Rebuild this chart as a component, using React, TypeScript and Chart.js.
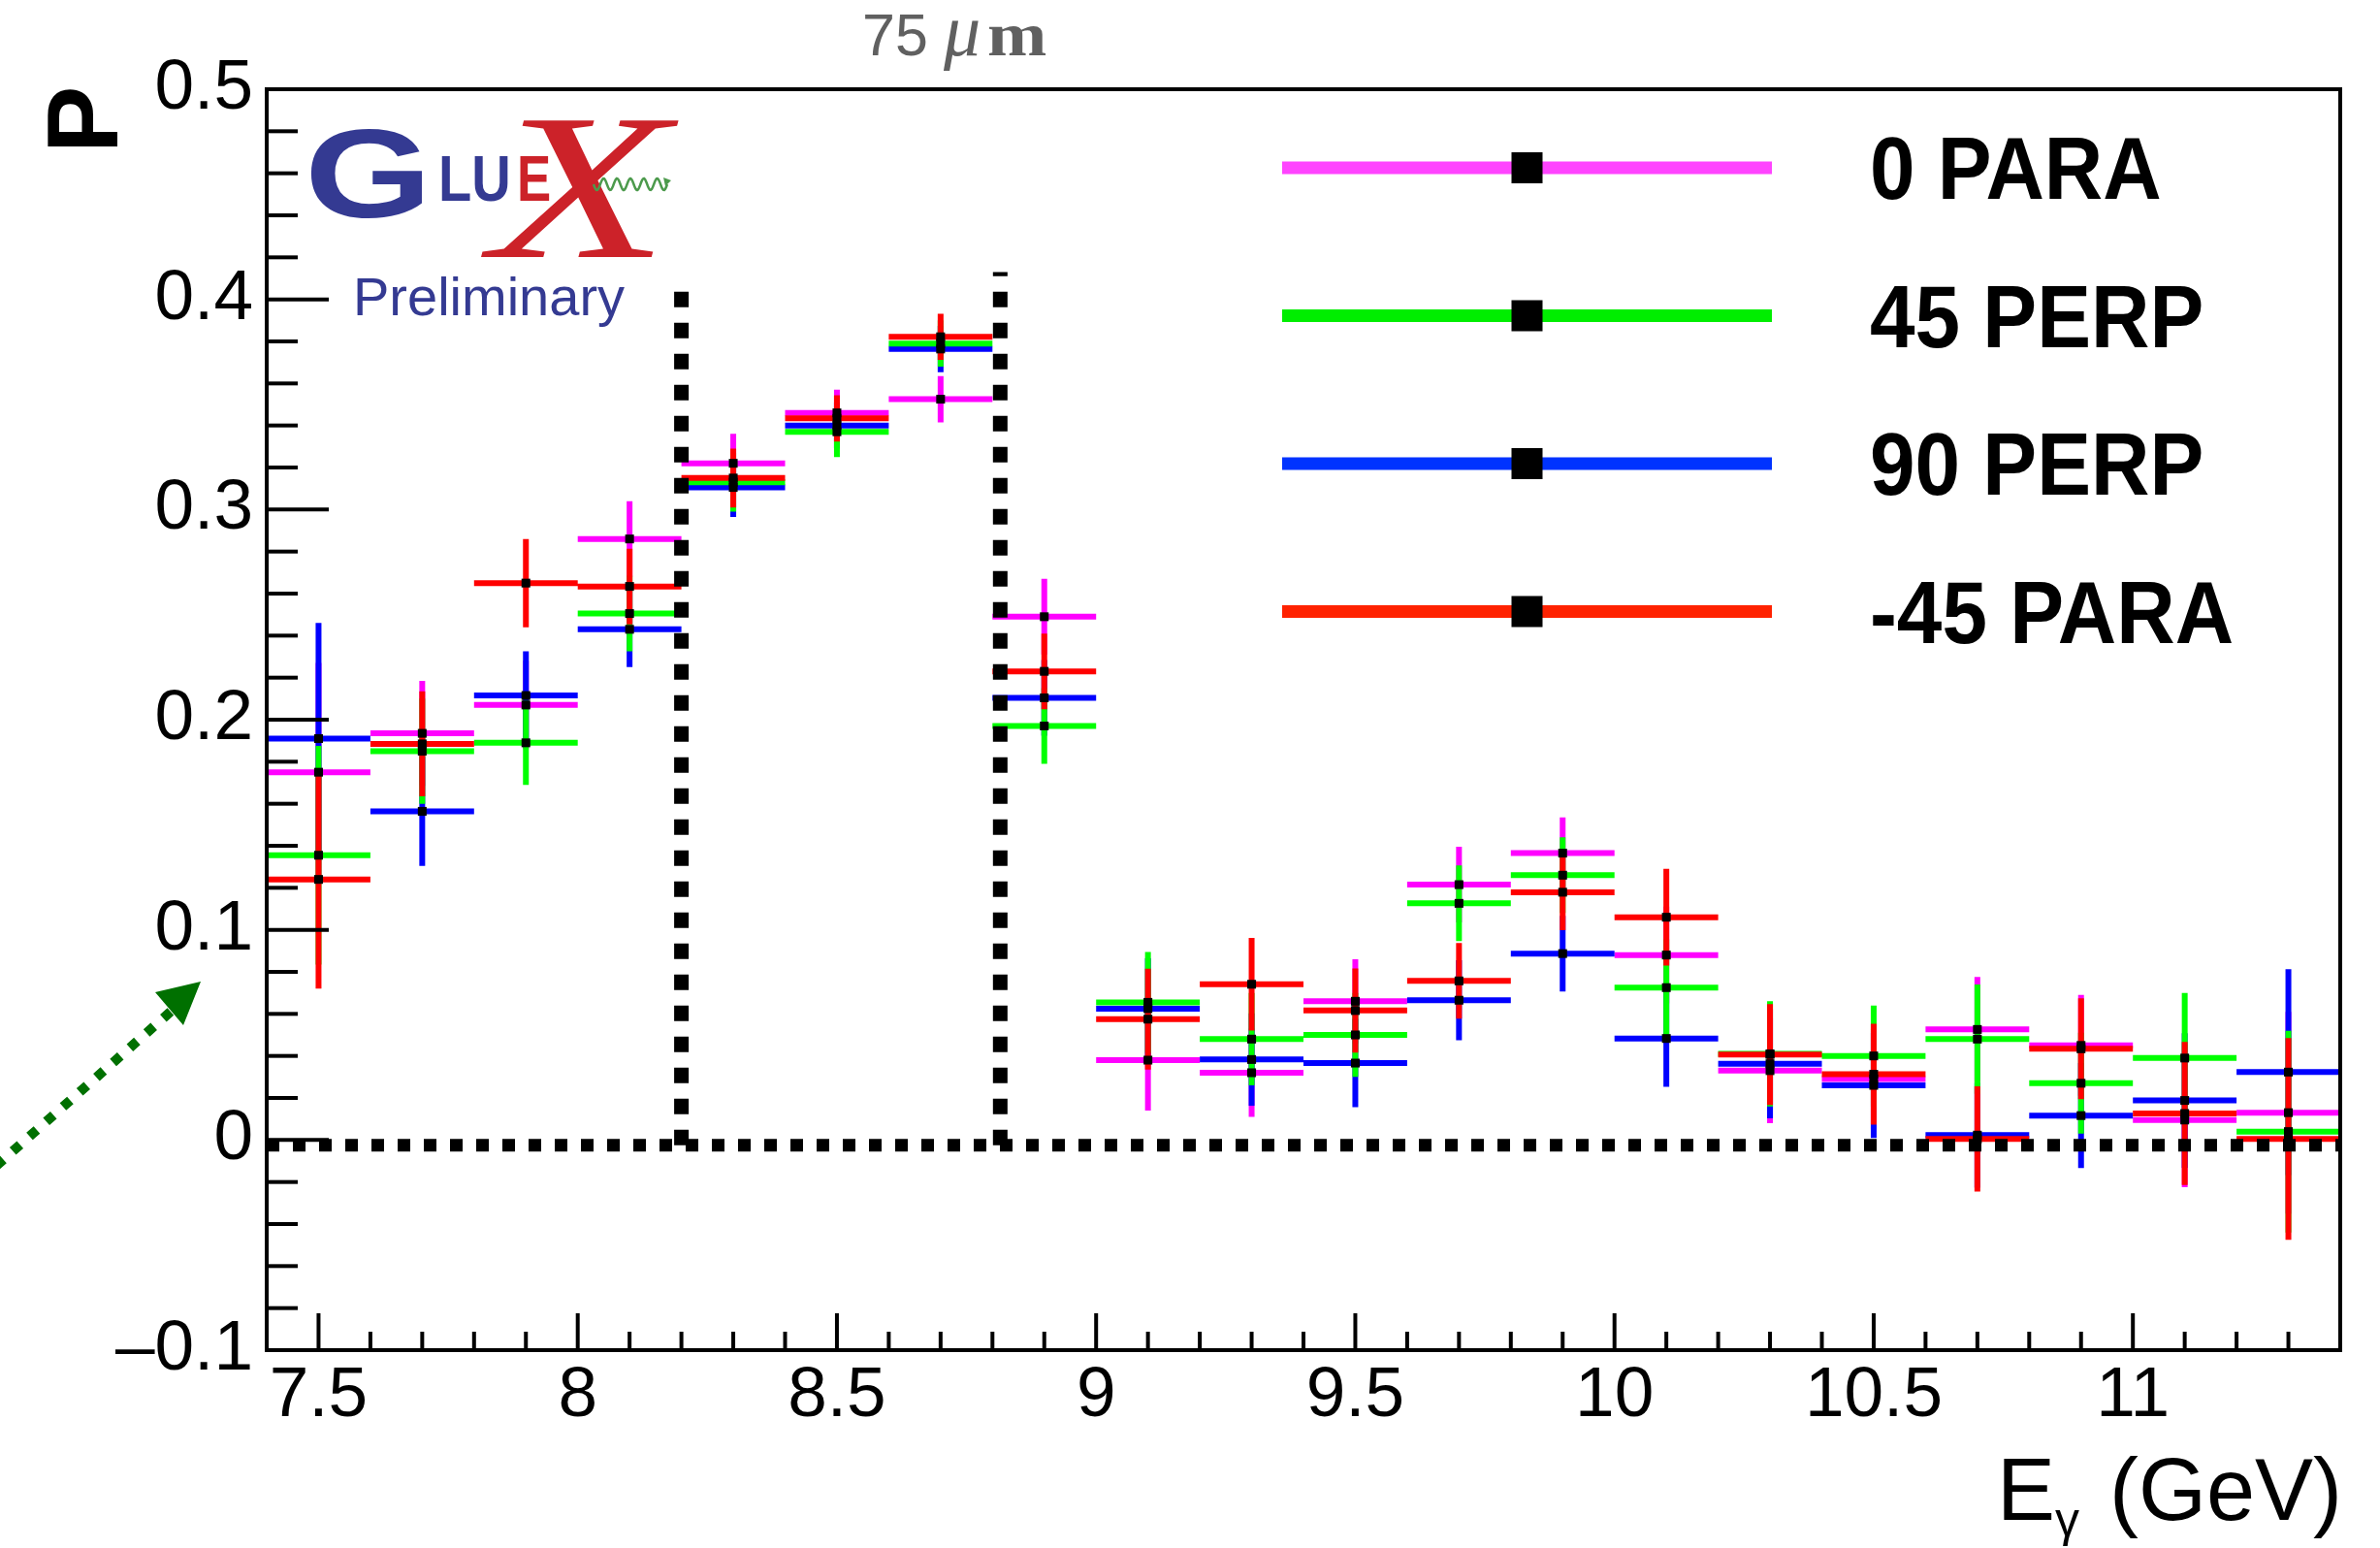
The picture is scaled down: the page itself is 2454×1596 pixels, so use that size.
import React, { useEffect, useRef } from "react";
import { Chart, registerables } from "chart.js";

Chart.register(...registerables);

// ---------------- data ----------------
const binCenters = [7.5, 7.7, 7.9, 8.1, 8.3, 8.5, 8.7, 8.9, 9.1, 9.3, 9.5, 9.7, 9.9, 10.1, 10.3, 10.5, 10.7, 10.9, 11.1, 11.3];
const binHalfWidth = 0.1;

const seriesLabels = ["0 PARA", "45 PERP", "90 PERP", "-45 PARA"];

const para0 = [0.175, 0.1935, 0.207, 0.286, 0.322, 0.346, 0.3525, 0.249, 0.038, 0.032, 0.066, 0.1215, 0.1365, 0.088, 0.033, 0.029, 0.0526, 0.045, 0.0095, 0.013];
const perp45 = [0.1355, 0.185, 0.189, 0.2505, 0.313, 0.337, 0.379, 0.197, 0.0655, 0.048, 0.05, 0.1126, 0.126, 0.0725, 0.041, 0.04, 0.048, 0.027, 0.039, 0.004];
const perp90 = [0.191, 0.1564, 0.2115, 0.243, 0.3105, 0.34, 0.3764, 0.2104, 0.0625, 0.0383, 0.0366, 0.0665, 0.0887, 0.0483, 0.0363, 0.026, 0.0023, 0.0116, 0.0188, 0.0323];
const para45m = [0.124, 0.1885, 0.265, 0.2634, 0.315, 0.3434, 0.3822, 0.223, 0.0575, 0.0741, 0.0616, 0.0757, 0.1179, 0.106, 0.0407, 0.0313, 0.0005, 0.0434, 0.0126, 0.0005];

const errPara0 = [0.052, 0.025, 0.021, 0.018, 0.014, 0.011, 0.011, 0.018, 0.024, 0.021, 0.02, 0.018, 0.017, 0.023, 0.025, 0.024, 0.025, 0.024, 0.032, 0.048];
const errPerp45 = [0.052, 0.025, 0.02, 0.018, 0.014, 0.012, 0.011, 0.018, 0.024, 0.022, 0.02, 0.018, 0.018, 0.023, 0.025, 0.024, 0.026, 0.024, 0.031, 0.048];
const errPerp90 = [0.055, 0.026, 0.021, 0.018, 0.014, 0.011, 0.011, 0.018, 0.024, 0.022, 0.021, 0.019, 0.018, 0.023, 0.026, 0.025, 0.025, 0.025, 0.032, 0.049];
const errPara45m = [0.052, 0.025, 0.021, 0.018, 0.014, 0.011, 0.011, 0.018, 0.024, 0.022, 0.02, 0.018, 0.018, 0.023, 0.024, 0.024, 0.025, 0.024, 0.034, 0.048];

const seriesColors = ["#ff00ff", "#00ff00", "#0000ff", "#ff0000"];
const legendColors = ["#ff44ff", "#00ee00", "#0033ff", "#ff2200"];

const xRange = [7.4, 11.4];
const yRange = [-0.1, 0.5];
const xTickValues = [7.5, 8, 8.5, 9, 9.5, 10, 10.5, 11];
const xTickLabels = ["7.5", "8", "8.5", "9", "9.5", "10", "10.5", "11"];
const yTickValues = [-0.1, 0, 0.1, 0.2, 0.3, 0.4, 0.5];
const yTickLabels = ["\u20130.1", "0", "0.1", "0.2", "0.3", "0.4", "0.5"];
const xMinorStep = 0.1;
const xMajorStep = 0.5;
const yMinorStep = 0.02;
const yMajorStep = 0.1;

const cutEdges = [8.2, 8.815];
const cutTops = [0.405, 0.413];
const zeroLevel = -0.0025;

// ---------------- helpers ----------------
function crossData(values: number[], errs: number[]) {
  const pts: { x: number; y: number | null }[] = [];
  binCenters.forEach((c, i) => {
    const v = values[i];
    const e = errs[i];
    pts.push({ x: c - binHalfWidth, y: v }, { x: c + binHalfWidth, y: v }, { x: c, y: null });
    pts.push({ x: c, y: v - e }, { x: c, y: v + e }, { x: c, y: null });
  });
  return pts;
}

function markerData(values: number[]) {
  return binCenters.map((c, i) => ({ x: c, y: values[i] }));
}

const FONT = '"Liberation Sans", Arial, sans-serif';
const SERIF = '"Liberation Serif", "Times New Roman", serif';

const decorPlugin = {
  id: "decor",
  afterDatasetsDraw(chart: any) {
    const { ctx, chartArea: a, scales } = chart;
    const x = scales.x;
    const y = scales.y;
    ctx.save();
    ctx.strokeStyle = "#000";
    ctx.lineWidth = 4;
    ctx.lineCap = "butt";
    // y ticks (left axis, pointing inward)
    const ny = Math.round((yRange[1] - yRange[0]) / yMinorStep);
    for (let i = 0; i <= ny; i++) {
      const v = yRange[0] + i * yMinorStep;
      const r = v / yMajorStep;
      const major = Math.abs(r - Math.round(r)) < 1e-6;
      const py = y.getPixelForValue(v);
      ctx.beginPath();
      ctx.moveTo(a.left, py);
      ctx.lineTo(a.left + (major ? 64 : 32), py);
      ctx.stroke();
    }
    // x ticks (bottom axis, pointing inward)
    const nx = Math.round((xRange[1] - xRange[0]) / xMinorStep);
    for (let i = 1; i < nx; i++) {
      const v = xRange[0] + i * xMinorStep;
      const r = v / xMajorStep;
      const major = Math.abs(r - Math.round(r)) < 1e-6;
      const px = x.getPixelForValue(v);
      ctx.beginPath();
      ctx.moveTo(px, a.bottom);
      ctx.lineTo(px, a.bottom - (major ? 38 : 19));
      ctx.stroke();
    }
    // frame
    ctx.strokeRect(a.left, a.top, a.right - a.left, a.bottom - a.top);
    ctx.restore();
  },
  afterDraw(chart: any) {
    const { ctx, chartArea: a } = chart;
    ctx.save();
    ctx.fillStyle = "#000";
    ctx.textBaseline = "alphabetic";

    // y axis title "P"
    ctx.save();
    ctx.font = `bold 104px ${FONT}`;
    ctx.translate(121, 158);
    ctx.rotate(-Math.PI / 2);
    ctx.textAlign = "left";
    ctx.fillText("P", 0, 0);
    ctx.restore();

    // x axis title E_gamma (GeV)
    ctx.font = `90px ${FONT}`;
    ctx.textAlign = "right";
    ctx.fillText("(GeV)", a.right + 2, 1567);
    ctx.textAlign = "left";
    ctx.fillText("E", 2059, 1567);
    ctx.font = `50px ${FONT}`;
    ctx.fillText("\u03b3", 2119, 1584);

    // title 75 um
    ctx.fillStyle = "#606060";
    ctx.font = `61px ${FONT}`;
    ctx.fillText("75", 889, 57);
    ctx.font = `italic 76px ${SERIF}`;
    ctx.fillText("\u03bc", 973, 57);
    ctx.save();
    ctx.font = `bold 64px ${SERIF}`;
    ctx.translate(1018, 57);
    ctx.scale(1.15, 1);
    ctx.fillText("m", 0, 0);
    ctx.restore();

    // legend
    const lx0 = 1322;
    const lx1 = 1827;
    const ly0 = 173;
    const ldy = 152.5;
    seriesLabels.forEach((lab, i) => {
      const ly = ly0 + i * ldy;
      ctx.fillStyle = legendColors[i];
      ctx.fillRect(lx0, ly - 6.5, lx1 - lx0, 13);
      ctx.fillStyle = "#000";
      ctx.fillRect((lx0 + lx1) / 2 - 16, ly - 16, 32, 32);
      ctx.save();
      ctx.font = `bold 90px ${FONT}`;
      ctx.textBaseline = "alphabetic";
      ctx.translate(1928, ly + 32);
      ctx.scale(0.93, 1);
      ctx.fillText(lab, 0, 0);
      ctx.restore();
    });

    // GlueX logo
    const blue = "#343a92";
    const red = "#cc2229";
    ctx.fillStyle = blue;
    ctx.save();
    ctx.font = `bold 130px ${FONT}`;
    ctx.translate(314, 224);
    ctx.scale(1.3, 1);
    ctx.fillText("G", 0, 0);
    ctx.restore();
    ctx.save();
    ctx.font = `bold 66px ${FONT}`;
    ctx.translate(452, 207);
    ctx.scale(0.85, 1);
    ctx.fillText("LU", 0, 0);
    ctx.restore();
    ctx.fillStyle = red;
    ctx.save();
    ctx.font = `bold 66px ${FONT}`;
    ctx.translate(533, 207);
    ctx.scale(0.8, 1);
    ctx.fillText("E", 0, 0);
    ctx.restore();
    ctx.save();
    ctx.font = `italic 215px ${SERIF}`;
    ctx.translate(506, 265);
    ctx.scale(1.4, 1);
    ctx.fillText("X", 0, 0);
    ctx.restore();
    // photon wave
    ctx.strokeStyle = "#4c9a4c";
    ctx.lineWidth = 2.5;
    ctx.beginPath();
    for (let t = 0; t <= 76; t++) {
      const px = 612 + t;
      const py = 190 + 6 * Math.sin((t / 76) * Math.PI * 2 * 5.5);
      if (t === 0) ctx.moveTo(px, py);
      else ctx.lineTo(px, py);
    }
    ctx.stroke();
    ctx.fillStyle = "#4c9a4c";
    ctx.beginPath();
    ctx.moveTo(692, 186);
    ctx.lineTo(684, 183);
    ctx.lineTo(686, 192);
    ctx.closePath();
    ctx.fill();
    ctx.fillStyle = blue;
    ctx.font = `56px ${FONT}`;
    ctx.fillText("Preliminary", 364, 325);

    // green dotted arrow
    ctx.strokeStyle = "#007000";
    ctx.fillStyle = "#007000";
    ctx.lineWidth = 10;
    ctx.setLineDash([10, 13]);
    ctx.beginPath();
    ctx.moveTo(-4, 1202);
    ctx.lineTo(176, 1043);
    ctx.stroke();
    ctx.setLineDash([]);
    ctx.beginPath();
    ctx.moveTo(207, 1012);
    ctx.lineTo(160, 1023);
    ctx.lineTo(189, 1057);
    ctx.closePath();
    ctx.fill();

    ctx.restore();
  },
};

export default function App() {
  const ref = useRef<HTMLCanvasElement | null>(null);
  useEffect(() => {
    document.body.style.margin = "0";
    const seriesValues = [para0, perp45, perp90, para45m];
    const seriesErrs = [errPara0, errPerp45, errPerp90, errPara45m];
    const drawOrder = [5, 3, 4, 2];
    const datasets: any[] = [];
    seriesValues.forEach((vals, i) => {
      datasets.push({
        type: "line",
        label: seriesLabels[i],
        data: crossData(vals, seriesErrs[i]),
        borderColor: seriesColors[i],
        backgroundColor: seriesColors[i],
        borderWidth: 6,
        borderCapStyle: "butt",
        pointRadius: 0,
        spanGaps: false,
        tension: 0,
        fill: false,
        order: drawOrder[i],
      });
      datasets.push({
        type: "scatter",
        label: seriesLabels[i] + " markers",
        data: markerData(vals),
        pointStyle: "rect",
        pointRadius: 6.4,
        pointBackgroundColor: "#000",
        pointBorderWidth: 0,
        showLine: false,
        order: 1,
      });
    });
    datasets.push({
      type: "line",
      label: "zero",
      data: [
        { x: xRange[0], y: zeroLevel },
        { x: xRange[1], y: zeroLevel },
      ],
      borderColor: "#000",
      borderWidth: 13,
      borderDash: [13, 14],
      borderCapStyle: "butt",
      pointRadius: 0,
      order: 0,
    });
    cutEdges.forEach((e, i) => {
      datasets.push({
        type: "line",
        label: "cut" + i,
        data: [
          { x: e, y: zeroLevel },
          { x: e, y: cutTops[i] },
        ],
        borderColor: "#000",
        borderWidth: 15,
        borderDash: [16, 16],
        borderCapStyle: "butt",
        pointRadius: 0,
        order: 0,
      });
    });

    const chart = new Chart(ref.current as HTMLCanvasElement, {
      type: "line",
      data: { datasets },
      options: {
        animation: false,
        responsive: false,
        devicePixelRatio: 1,
        layout: { padding: { left: 0, top: 92, right: 41, bottom: 0 } },
        plugins: { legend: { display: false }, tooltip: { enabled: false } },
        events: [],
        scales: {
          x: {
            type: "linear",
            min: xRange[0],
            max: xRange[1],
            grid: { display: false, drawTicks: false },
            border: { display: false },
            afterBuildTicks: (s: any) => {
              s.ticks = xTickValues.map((value) => ({ value }));
            },
            afterFit: (s: any) => {
              s.height = 204;
            },
            ticks: {
              autoSkip: false,
              maxRotation: 0,
              minRotation: 0,
              padding: 4,
              color: "#000",
              font: { family: FONT, size: 73 },
              callback: (v: any) => {
                const idx = xTickValues.findIndex((t) => Math.abs(t - v) < 1e-9);
                return idx >= 0 ? xTickLabels[idx] : "";
              },
            },
          },
          y: {
            type: "linear",
            min: yRange[0],
            max: yRange[1],
            grid: { display: false, drawTicks: false },
            border: { display: false },
            afterBuildTicks: (s: any) => {
              s.ticks = yTickValues.map((value) => ({ value }));
            },
            afterFit: (s: any) => {
              s.width = 275;
            },
            ticks: {
              autoSkip: false,
              padding: 14,
              color: "#000",
              font: { family: FONT, size: 73 },
              callback: (v: any) => {
                const idx = yTickValues.findIndex((t) => Math.abs(t - v) < 1e-9);
                return idx >= 0 ? yTickLabels[idx] : "";
              },
            },
          },
        },
      },
      plugins: [decorPlugin],
    } as any);
    return () => chart.destroy();
  }, []);
  return (
    <div style={{ width: 2454, height: 1596, background: "#fff" }}>
      <canvas ref={ref} width={2454} height={1596} style={{ display: "block", width: 2454, height: 1596 }} />
    </div>
  );
}
